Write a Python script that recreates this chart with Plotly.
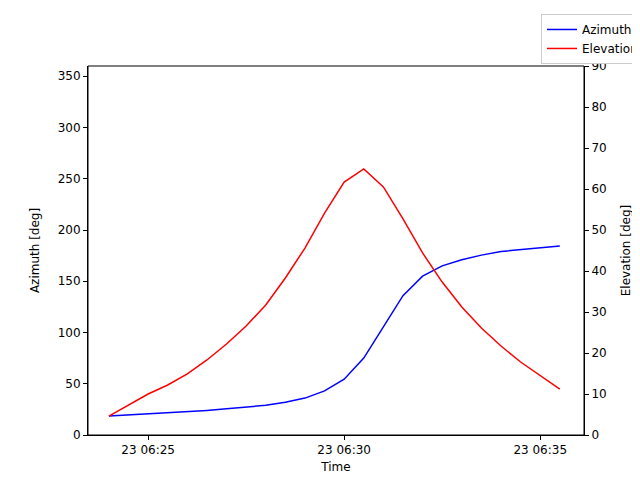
import plotly.graph_objects as go
import pandas as pd

times = pd.date_range("2024-01-23 06:24:00", periods=24, freq="30s")
azimuth = [18.5, 19.5, 20.5, 21.5, 22.5, 24, 25.5, 27, 29, 32, 36, 43, 54.5, 75,
           106, 136, 155, 165, 171, 175.5, 179, 181, 183, 184.5]
elevation = [4.6, 7.3, 10, 12.2, 14.9, 18.3, 22.2, 26.6, 31.7, 38.3, 45.6, 54.1,
             61.7, 64.9, 60.5, 52.7, 44.4, 37.3, 31.2, 26.1, 21.7, 17.8, 14.4, 11.2]
tick_vals = pd.to_datetime(["2024-01-23 06:25", "2024-01-23 06:30", "2024-01-23 06:35"])
tick_text = ["23 06:25", "23 06:30", "23 06:35"]

fig = go.Figure()
fig.add_trace(go.Scatter(x=times, y=azimuth, mode="lines", name="Azimuth",
                         line=dict(color="blue", width=1.5)))
fig.add_trace(go.Scatter(x=times, y=elevation, mode="lines", name="Elevation",
                         line=dict(color="red", width=1.5), yaxis="y2"))
ax = dict(showgrid=False, zeroline=False, showline=True, linecolor="black", mirror=False,
          ticks="outside", ticklen=4, tickcolor="black", tickfont=dict(size=12, color="black"),
          automargin=False)
fig.update_layout(
    width=640, height=480, paper_bgcolor="white", plot_bgcolor="white",
    font=dict(family="DejaVu Sans", size=12, color="black"),
    margin=dict(l=80, r=64, t=58, b=53, autoexpand=False),
    xaxis=dict(**ax, range=[pd.Timestamp("2024-01-23 06:23:28"), pd.Timestamp("2024-01-23 06:36:07")],
               tickvals=tick_vals, ticktext=tick_text,
               title=dict(text="Time", font=dict(size=12), standoff=6)),
    yaxis=dict(**ax, range=[0, 360], dtick=50, title=dict(text="Azimuth [deg]", font=dict(size=12))),
    yaxis2=dict(**ax, range=[0, 90], dtick=10, overlaying="y", side="right",
                title=dict(text="Elevation [deg]", font=dict(size=12))),
    legend=dict(x=1.121, y=1.141, xanchor="right", yanchor="top",
                bordercolor="#cccccc", borderwidth=1, bgcolor="white", font=dict(size=12)),
    showlegend=True,
)
fig.add_shape(type="rect", xref="paper", yref="paper", x0=0, x1=1, y0=0, y1=1,
              line=dict(color="black", width=1))
fig.write_html("out.html")
